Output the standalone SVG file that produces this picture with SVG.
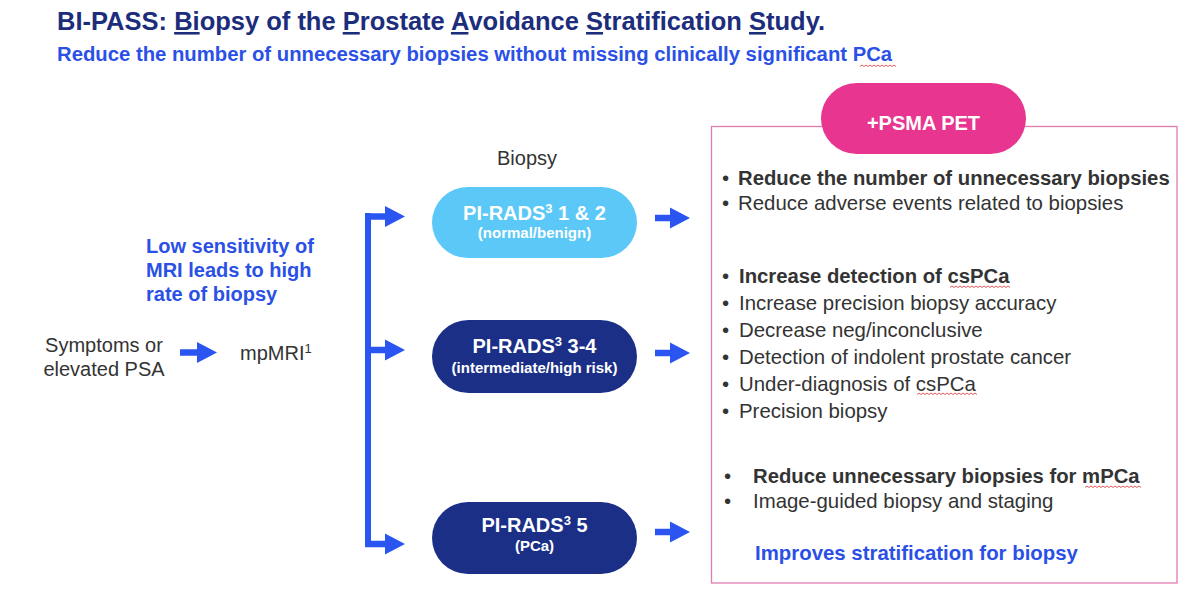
<svg xmlns="http://www.w3.org/2000/svg" width="1200" height="590" viewBox="0 0 1200 590">
<style>
text{font-family:"Liberation Sans",Arial,Helvetica,sans-serif}
.title{font-size:25.5px;font-weight:bold;fill:#1c2d7c}
.sub{font-size:20.3px;font-weight:bold;fill:#2b50e6}
.dark{font-size:20px;fill:#333333}
.blueb{font-size:20px;font-weight:bold;fill:#2b50e6}
.blueb2{font-size:20.4px;font-weight:bold;fill:#2b50e6}
.pmain{font-size:20px;font-weight:bold;fill:#ffffff;text-anchor:middle}
.psub{font-size:15px;font-weight:bold;fill:#ffffff;text-anchor:middle}
.b{font-size:20.4px;fill:#333333}
.bb{font-size:20.3px;font-weight:bold;fill:#333333}
.u{text-decoration:underline}
.conn{stroke:#2a55f0;stroke-width:6.5;fill:none;marker-end:url(#ah)}
.squig{stroke:#e04848;stroke-width:0.9;fill:none}
</style>
<defs>
<marker id="ah" markerUnits="userSpaceOnUse" markerWidth="20" markerHeight="21" refX="0" refY="10.5" orient="auto" overflow="visible">
<path d="M0,0 L20,10.5 L0,21 Z" fill="#2a55f0"/>
</marker>
</defs>
<rect width="1200" height="590" fill="#ffffff"/>

<g id="header">
<text class="title" x="57" y="30">BI-PASS: <tspan class="u">Bi</tspan>opsy of the <tspan class="u">P</tspan>rostate <tspan class="u">A</tspan>voidance <tspan class="u">S</tspan>tratification <tspan class="u">S</tspan>tudy.</text>
<text class="sub" x="57" y="61">Reduce the number of unnecessary biopsies without missing clinically significant PCa</text>
<path class="squig" d="M860,66.5 l2,-1.5 l2,1.5 l2,-1.5 l2,1.5 l2,-1.5 l2,1.5 l2,-1.5 l2,1.5 l2,-1.5 l2,1.5 l2,-1.5 l2,1.5 l2,-1.5 l2,1.5 l2,-1.5 l2,1.5 l2,-1.5 l2,1.5"/>
</g>

<g id="symptoms">
<text class="dark" x="104" y="352" text-anchor="middle">Symptoms or</text>
<text class="dark" x="104" y="376" text-anchor="middle">elevated PSA</text>
</g>

<g id="mpmri">
<text class="dark" x="240" y="360">mpMRI<tspan font-size="13" dy="-7">1</tspan></text>
</g>

<g id="low-sensitivity">
<text class="blueb" x="146" y="253">Low sensitivity of</text>
<text class="blueb" x="146" y="277">MRI leads to high</text>
<text class="blueb" x="146" y="301">rate of biopsy</text>
</g>

<g id="biopsy-label">
<text class="dark" x="527" y="165" text-anchor="middle">Biopsy</text>
</g>

<g id="pirads12">
<rect x="432" y="187" width="205" height="71" rx="35.5" fill="#5cc8f7"/>
<text class="pmain" x="534.5" y="220">PI-RADS<tspan font-size="13" dy="-7">3</tspan><tspan dy="7"> 1 &amp; 2</tspan></text>
<text class="psub" x="534.5" y="238">(normal/benign)</text>
</g>

<g id="pirads34">
<rect x="432" y="320" width="205" height="73" rx="36.5" fill="#1b2f87"/>
<text class="pmain" x="534.5" y="353">PI-RADS<tspan font-size="13" dy="-7">3</tspan><tspan dy="7"> 3-4</tspan></text>
<text class="psub" x="534.5" y="373">(intermediate/high risk)</text>
</g>

<g id="pirads5">
<rect x="432" y="502" width="205" height="72" rx="36" fill="#1b2f87"/>
<text class="pmain" x="534.5" y="532">PI-RADS<tspan font-size="13" dy="-7">3</tspan><tspan dy="7"> 5</tspan></text>
<text class="psub" x="534.5" y="551">(PCa)</text>
</g>

<g id="psma-panel">
<rect x="711.5" y="126.5" width="465.5" height="456.5" fill="none" stroke="#e07db0" stroke-width="1.3"/>
<rect x="821" y="83" width="205" height="71" rx="35.5" fill="#e8358f"/>
<text class="pmain" x="923.5" y="130">+PSMA PET</text>

<text class="b" x="722" y="185">•</text>
<text class="bb" x="738" y="185">Reduce the number of unnecessary biopsies</text>
<text class="b" x="722" y="210">•</text>
<text class="b" x="738" y="210">Reduce adverse events related to biopsies</text>

<text class="b" x="722" y="283">•</text>
<text class="bb" x="739" y="283">Increase detection of csPCa</text>
<text class="b" x="722" y="310">•</text>
<text class="b" x="739" y="310">Increase precision biopsy accuracy</text>
<text class="b" x="722" y="337">•</text>
<text class="b" x="739" y="337">Decrease neg/inconclusive</text>
<text class="b" x="722" y="364">•</text>
<text class="b" x="739" y="364">Detection of indolent prostate cancer</text>
<text class="b" x="722" y="391">•</text>
<text class="b" x="739" y="391">Under-diagnosis of csPCa</text>
<text class="b" x="722" y="418">•</text>
<text class="b" x="739" y="418">Precision biopsy</text>

<text class="b" x="724" y="483">•</text>
<text class="bb" x="753" y="483">Reduce unnecessary biopsies for mPCa</text>
<text class="b" x="724" y="508">•</text>
<text class="b" x="753" y="508">Image-guided biopsy and staging</text>

<text class="blueb2" x="755" y="560">Improves stratification for biopsy</text>

<path class="squig" d="M950,287.5 l2,-1.5 l2,1.5 l2,-1.5 l2,1.5 l2,-1.5 l2,1.5 l2,-1.5 l2,1.5 l2,-1.5 l2,1.5 l2,-1.5 l2,1.5 l2,-1.5 l2,1.5 l2,-1.5 l2,1.5 l2,-1.5 l2,1.5 l2,-1.5 l2,1.5 l2,-1.5 l2,1.5 l2,-1.5 l2,1.5 l2,-1.5 l2,1.5 l2,-1.5 l2,1.5 l2,-1.5 l2,1.5"/>
<path class="squig" d="M917,394.5 l2,-1.5 l2,1.5 l2,-1.5 l2,1.5 l2,-1.5 l2,1.5 l2,-1.5 l2,1.5 l2,-1.5 l2,1.5 l2,-1.5 l2,1.5 l2,-1.5 l2,1.5 l2,-1.5 l2,1.5 l2,-1.5 l2,1.5 l2,-1.5 l2,1.5 l2,-1.5 l2,1.5 l2,-1.5 l2,1.5 l2,-1.5 l2,1.5 l2,-1.5 l2,1.5 l2,-1.5 l2,1.5"/>
<path class="squig" d="M1085,487.5 l2,-1.5 l2,1.5 l2,-1.5 l2,1.5 l2,-1.5 l2,1.5 l2,-1.5 l2,1.5 l2,-1.5 l2,1.5 l2,-1.5 l2,1.5 l2,-1.5 l2,1.5 l2,-1.5 l2,1.5 l2,-1.5 l2,1.5 l2,-1.5 l2,1.5 l2,-1.5 l2,1.5 l2,-1.5 l2,1.5 l2,-1.5 l2,1.5 l2,-1.5 l2,1.5"/>
</g>

<g id="connectors">
<path class="conn" d="M180,352.5 H197"/>
<path d="M368,213 V547" stroke="#2a55f0" stroke-width="6" fill="none"/>
<path class="conn" d="M365,216.5 H385"/>
<path class="conn" d="M365,350 H385"/>
<path class="conn" d="M365,544 H385"/>
<path class="conn" d="M655,218 H670"/>
<path class="conn" d="M655,353 H670"/>
<path class="conn" d="M655,532 H670"/>
</g>
</svg>
